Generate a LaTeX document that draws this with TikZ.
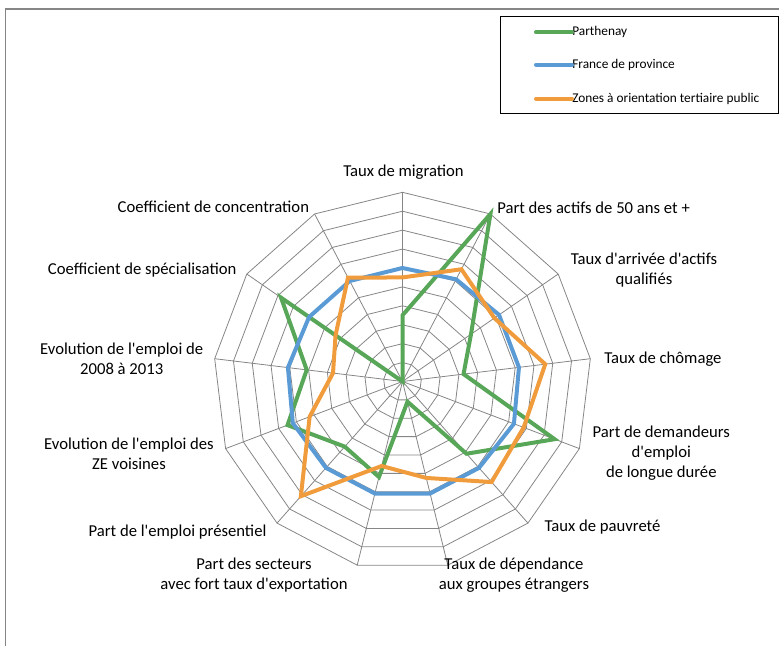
\documentclass[tikz,border=0pt]{standalone}
\usepackage{fontspec}
\setmainfont{Carlito}[Ligatures=TeXOff]
\usepackage{xcolor}
\usepackage{tikz}
\definecolor{parthgreen}{RGB}{88,166,88}
\definecolor{provblue}{RGB}{91,155,213}
\definecolor{zoneorange}{RGB}{241,156,60}
\definecolor{gridgrey}{RGB}{134,134,134}

\begin{document}
\begin{tikzpicture}[x=0.75pt, y=-0.75pt,
    lbl/.style={inner sep=0pt, font=\fontsize{12.5}{15}\selectfont, align=center},
    leg/.style={inner sep=0pt, font=\fontsize{10}{12}\selectfont, anchor=west},
    gridline/.style={draw=gridgrey, line width=0.6pt},
    serie/.style={line width=3pt}]
    \useasboundingbox (0,0) rectangle (779,646);
    \draw[gridgrey, line width=0.9pt] (779,9) -| (5.5,646);

    \begin{scope}[shift={(402.5,381.5)}]
        \foreach \k in {0,...,12}
            \draw[gridline] (0,0) -- ({-90+\k*360/13}:189.2);
        \foreach \r in {1,...,10}
            \draw[gridline] (-90:\r*18.92) \foreach \k in {1,...,12} {-- ({-90+\k*360/13}:\r*18.92)} -- cycle;

        \foreach \v [count=\k from 0] in {3.5,10,4.4,3.25,8.6,5.1,1.1,5.2,4.6,6.5,5.1,7.8,0}
            \coordinate (par\k) at ({-90+\k*360/13}:\v*18.92);
        \foreach \v [count=\k from 0] in {6.0,6.1,6.2,6.2,6.3,6.1,6.1,6.1,6.1,6.2,6.1,6.0,6.0}
            \coordinate (fra\k) at ({-90+\k*360/13}:\v*18.92);
        \foreach \v [count=\k from 0] in {5.5,6.7,5.9,7.6,6.85,7.1,5.25,4.6,8.1,5.25,3.7,4.3,6.2}
            \coordinate (zon\k) at ({-90+\k*360/13}:\v*18.92);

        \draw[serie, parthgreen] (par0) \foreach \k in {1,...,12} {-- (par\k)} -- cycle;
        \draw[serie, provblue] (fra0) \foreach \k in {1,...,12} {-- (fra\k)} -- cycle;
        \draw[serie, zoneorange] (zon0) \foreach \k in {1,...,12} {-- (zon\k)} -- cycle;
    \end{scope}

    \node[lbl] (mig) at (403.5,172) {Taux de migration};
    \node[lbl, anchor=west] (act) at (497,207.3) {Part des actifs de 50 ans et +};
    \node[lbl] (arr) at (644,269.7) {Taux d'arrivée d'actifs\\qualifiés};
    \node[lbl, anchor=west] (cho) at (604,359) {Taux de chômage};
    \node[lbl] (dem) at (661.3,453.3) {Part de demandeurs\\d'emploi\\de longue durée};
    \node[lbl] (pau) at (602.5,527) {Taux de pauvreté};
    \node[lbl] (dep) at (514,575.3) {Taux de dépendance\\aux groupes étrangers};
    \node[lbl] (sec) at (254,575.3) {Part des secteurs\\avec fort taux d'exportation};
    \node[lbl] (pre) at (177.5,532) {Part de l'emploi présentiel};
    \node[lbl] (zev) at (129,453.3) {Evolution de l'emploi des\\ZE voisines};
    \node[lbl] (evo) at (121.7,359.2) {Evolution de l'emploi de\\2008 à 2013};
    \node[lbl, anchor=east] (spe) at (236.7,270) {Coefficient de spécialisation};
    \node[lbl, anchor=east] (con) at (309.3,206.7) {Coefficient de concentration};

    \draw[line width=0.6pt] (500.7,16) rectangle (778.3,113.3);
    \node[leg] (lpar) at (572,32.3) {Parthenay};
    \node[leg] (lfra) at (572,64.7) {France de province};
    \node[leg] (lzon) at (572,98.7) {Zones à orientation tertiaire public};
    \draw[serie, line cap=round, parthgreen] (lpar.west) -- ++(-36,0);
    \draw[serie, line cap=round, provblue] (lfra.west) -- ++(-36,0);
    \draw[serie, line cap=round, zoneorange] (lzon.west) -- ++(-36,0);
\end{tikzpicture}
\end{document}
